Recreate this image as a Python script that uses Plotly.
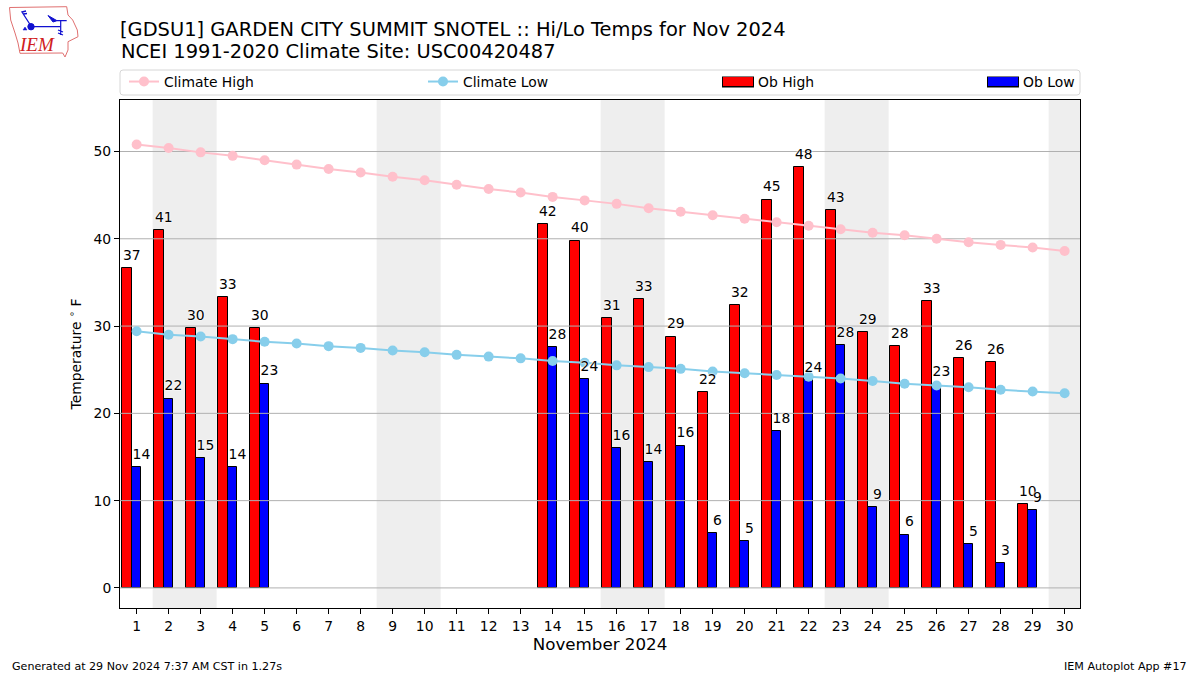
import base64
import plotly.graph_objects as go

days = list(range(1, 31))
tick_values = [0, 10, 20, 30, 40, 50]
ob_high = [36.6, 41.0, 29.8, 33.3, 29.8, None, None, None, None, None, None, None, None, 41.7, 39.8,
           30.9, 33.1, 28.8, 22.4, 32.4, 44.5, 48.2, 43.3, 29.3, 27.7, 32.9, 26.3, 25.9, 9.6, None]
ob_low = [13.8, 21.7, 14.9, 13.8, 23.4, None, None, None, None, None, None, None, None, 27.6, 23.9,
          16.0, 14.4, 16.3, 6.3, 5.4, 18.0, 23.8, 27.8, 9.3, 6.1, 23.3, 5.0, 2.8, 8.9, None]
high_labels = ["37", "41", "30", "33", "30", "", "", "", "", "", "", "", "", "42", "40",
               "31", "33", "29", "22", "32", "45", "48", "43", "29", "28", "33", "26", "26", "10", ""]
low_labels = ["14", "22", "15", "14", "23", "", "", "", "", "", "", "", "", "28", "24",
              "16", "14", "16", "6", "5", "18", "24", "28", "9", "6", "23", "5", "3", "9", ""]
climate_high = [50.8, 50.4, 49.9, 49.5, 49.0, 48.5, 48.0, 47.6, 47.1, 46.7, 46.2, 45.7, 45.3, 44.8, 44.4,
                44.0, 43.5, 43.1, 42.7, 42.3, 41.9, 41.5, 41.1, 40.7, 40.4, 40.0, 39.6, 39.3, 39.0, 38.6]
climate_low = [29.4, 29.0, 28.8, 28.5, 28.2, 28.0, 27.7, 27.5, 27.2, 27.0, 26.7, 26.5, 26.3, 26.0, 25.8,
               25.5, 25.3, 25.1, 24.8, 24.6, 24.4, 24.2, 24.0, 23.7, 23.4, 23.2, 23.0, 22.7, 22.5, 22.3]
weekends = [(1.5, 3.5), (8.5, 10.5), (15.5, 17.5), (22.5, 24.5), (29.5, 30.5)]

FONT = "DejaVu Sans"
L, R, T, B = 120, 1080, 100, 608
px = lambda v: (v - L) / (R - L)
py = lambda v: (B - v) / (B - T)
HALO = "white 0 0 2px, white 0 0 2px, white 0 0 1px"

fig = go.Figure()
fig.add_bar(x=days, y=ob_high, width=0.3, offset=-0.45, marker=dict(color="red", line=dict(color="black", width=1)),
            showlegend=False, hoverinfo="skip")
fig.add_bar(x=days, y=ob_low, width=0.3, offset=-0.15, marker=dict(color="blue", line=dict(color="black", width=1)),
            showlegend=False, hoverinfo="skip")

grid_x, grid_y = [], []
for t in tick_values:
    grid_x += [0.48, 30.48, None]
    grid_y += [t, t, None]
fig.add_scatter(x=grid_x, y=grid_y, mode="lines", line=dict(color="#b0b0b0", width=1), showlegend=False, hoverinfo="skip")

fig.add_scatter(x=days, y=climate_high, mode="lines+markers", name="Climate High", legend="legend",
                line=dict(color="pink", width=2), marker=dict(color="pink", size=10))
fig.add_scatter(x=days, y=climate_low, mode="lines+markers", name="Climate Low", legend="legend2",
                line=dict(color="skyblue", width=2), marker=dict(color="skyblue", size=10))
fig.add_scatter(x=[None], y=[None], mode="lines", name="Ob High", legend="legend3", line=dict(color="red", width=9))
fig.add_scatter(x=[None], y=[None], mode="lines", name="Ob Low", legend="legend4", line=dict(color="blue", width=9))


def value_labels(values, labels, shift):
    rows = [(d + shift, v, t) for d, v, t in zip(days, values, labels) if t]
    fig.add_scatter(x=[r[0] for r in rows], y=[r[1] for r in rows], text=[r[2] for r in rows],
                    mode="markers+text", textposition="top center",
                    marker=dict(size=6, color="rgba(0,0,0,0)"),
                    textfont=dict(family=FONT, size=13.9, color="black", shadow=HALO),
                    showlegend=False, hoverinfo="skip")


value_labels(ob_high, high_labels, -0.15)
value_labels(ob_low, low_labels, 0.15)

for a, b in weekends:
    fig.add_vrect(x0=a, x1=b, fillcolor="#eeeeee", line_width=0, layer="below")

# legend frame and bar swatch outlines
shapes = [dict(type="path", xref="paper", yref="paper", layer="below",
               path=f"M {px(123)} {py(70)} L {px(1077)} {py(70)} Q {px(1080)} {py(70)} {px(1080)} {py(73)} "
                    f"L {px(1080)} {py(92)} Q {px(1080)} {py(95)} {px(1077)} {py(95)} L {px(123)} {py(95)} "
                    f"Q {px(120)} {py(95)} {px(120)} {py(92)} L {px(120)} {py(73)} Q {px(120)} {py(70)} {px(123)} {py(70)} Z",
               line=dict(color="#d6d6d6", width=1), fillcolor="white")]
for sx in (723, 988):
    shapes.append(dict(type="rect", xref="paper", yref="paper", x0=px(sx - 1), x1=px(sx + 31), y0=py(87.5), y1=py(76.5),
                       line=dict(width=0), fillcolor="black", layer="below"))
for s in shapes:
    fig.add_shape(**s)

svg = """<svg xmlns='http://www.w3.org/2000/svg' width='90' height='65' viewBox='0 0 90 65'>
<path d='M9.5 7.5 L66.7 6.7 L68 15 L72.7 20 L77.3 30 L78 36.7 L68 41.7 L68 50 L65 57 L62.7 53 L20 53.3 L18 43 L15 33 L10.7 20 Z'
 fill='none' stroke='#e07070' stroke-width='1'/>
<g stroke='#1010d0' fill='#1010d0'>
<circle cx='31' cy='26.7' r='3.2'/>
<path d='M31 26.7 L60.7 26.7 M31 26 L22 12 L26 11 M23.5 14 L27 13.5' fill='none' stroke-width='1.3'/>
<path d='M48 15.5 L57 20.7 L53 22 Z'/>
<path d='M57 20.7 L66.7 20.7 M60.7 20.7 L60.7 35 M58 30 L63 32 M58 33 L63 35' fill='none' stroke-width='1.2'/>
<path d='M23 30 L25 27 L27 30 Z' stroke-width='0.5'/>
</g></svg>"""
logo = "data:image/svg+xml;base64," + base64.b64encode(svg.encode()).decode()
fig.add_layout_image(source=logo, xref="paper", yref="paper", x=px(0), y=py(0), sizex=90 / (R - L), sizey=65 / (B - T),
                     xanchor="left", yanchor="top", sizing="stretch", layer="above")


def note(text, x, y, size, xanchor="left", color="black", family=FONT, **kw):
    fig.add_annotation(text=text, xref="paper", yref="paper", x=px(x), y=py(y), xanchor=xanchor, yanchor="middle",
                       showarrow=False, font=dict(family=family, size=size, color=color), **kw)


note("NCEI 1991-2020 Climate Site: USC00420487", 118.5, 51.5, 19.45)
note("Generated at 29 Nov 2024 7:37 AM CST in 1.27s", 10, 666, 11.1)
note("IEM Autoplot App #17", 1189, 666, 11.1, xanchor="right")
note("<i>IEM</i>", 37, 45, 19, xanchor="center", color="#d02020", family="Liberation Serif")

legend_common = dict(bgcolor="rgba(0,0,0,0)", borderwidth=0, yanchor="middle", xanchor="left", y=py(82),
                     font=dict(family=FONT, size=13.9, color="black"), orientation="v")
fig.update_layout(
    width=1200, height=675, autosize=False,
    margin=dict(l=L, r=1200 - R, t=T, b=675 - B, pad=0),
    paper_bgcolor="white", plot_bgcolor="white",
    barmode="overlay", bargap=0,
    font=dict(family=FONT, size=13.9, color="black"),
    title=dict(text="[GDSU1] GARDEN CITY SUMMIT SNOTEL :: Hi/Lo Temps for Nov 2024", xref="container", yref="container",
               x=0.1, xanchor="left", y=1 - 29 / 675, yanchor="middle", font=dict(family=FONT, size=19.45, color="black")),
    xaxis=dict(range=[0.48, 30.48], tickmode="array", tickvals=days, ticktext=[str(d) for d in days], ticks="outside",
               ticklen=5, tickwidth=1, tickcolor="black", showline=True, mirror=True, linecolor="black", linewidth=1,
               showgrid=False, zeroline=False, tickfont=dict(family=FONT, size=13.9),
               title=dict(text="November 2024", font=dict(family=FONT, size=16.7), standoff=5)),
    yaxis=dict(range=[-2.3, 55.9], tickmode="array", tickvals=tick_values, ticks="outside", ticklen=5, tickwidth=1,
               tickcolor="black", showline=True, mirror=True, linecolor="black", linewidth=1, showgrid=False,
               zeroline=False, tickfont=dict(family=FONT, size=13.9),
               title=dict(text="Temperature <sup>∘</sup> F", font=dict(family=FONT, size=13.9), standoff=8)),
    legend=dict(x=px(124), **legend_common),
    legend2=dict(x=px(423), **legend_common),
    legend3=dict(x=px(718), **legend_common),
    legend4=dict(x=px(983), **legend_common),
)
fig.write_html("out.html", config=dict(displayModeBar=False),
               post_script="document.body.style.margin='0';document.body.style.overflow='hidden';")
